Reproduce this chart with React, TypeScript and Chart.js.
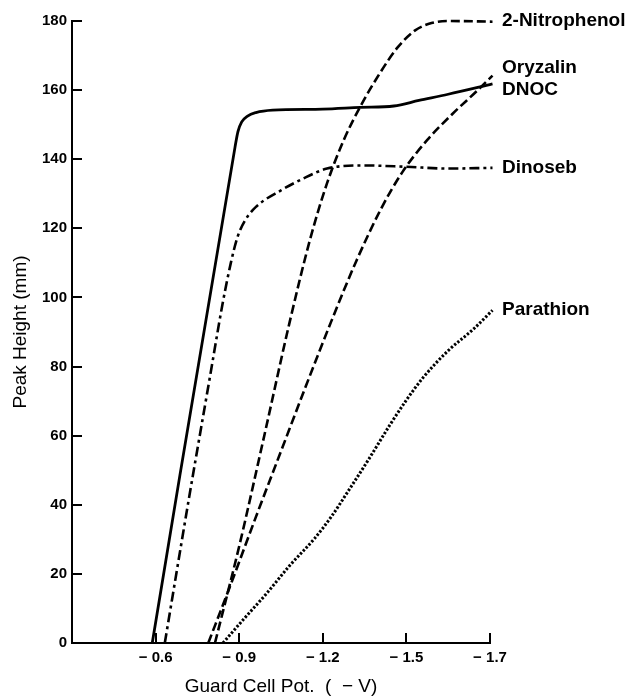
import React, { useEffect, useRef } from 'react';
import { Chart, registerables } from 'chart.js';

Chart.register(...registerables);

// x values are positions along the (equally spaced) tick axis: 1 = -0.6, 2 = -0.9, 3 = -1.2, 4 = -1.5, 5 = -1.7
const xTickLabels = ['\u2212 0.6', '\u2212 0.9', '\u2212 1.2', '\u2212 1.5', '\u2212 1.7'];
const xMin = 0;
const xMax = 5;
const yMin = 0;
const yMax = 180;
const yStep = 20;

const dnocX = [0.96, 1.95, 1.985, 2.03, 2.1, 2.2, 2.4, 3.0, 3.45, 3.85, 4.15, 4.5, 5.03];
const dnocY = [0, 143.5, 148.0, 150.8, 152.5, 153.5, 154.2, 154.5, 155.0, 155.4, 157.0, 158.8, 161.8];

const dinosebX = [1.11, 1.4, 1.65, 1.8, 1.9, 1.98, 2.07, 2.2, 2.5, 2.8, 3.05, 3.5, 4.0, 4.5, 5.03];
const dinosebY = [0, 42, 77, 98, 110, 117.5, 122.3, 126.2, 131.0, 134.8, 137.3, 138.2, 137.8, 137.3, 137.5];

const nitrophenolX = [1.71, 2.0, 2.3, 2.6, 2.85, 3.05, 3.25, 3.45, 3.68, 3.9, 4.1, 4.3, 4.5, 5.03];
const nitrophenolY = [0, 28, 60, 92.5, 117, 133, 145.5, 155.3, 164.8, 172.5, 177.2, 179.4, 180, 179.8];

const oryzalinX = [1.63, 1.9, 2.2, 2.5, 2.8, 3.1, 3.4, 3.7, 3.95, 4.25, 4.55, 4.85, 5.03];
const oryzalinY = [0, 17, 36.5, 55.5, 74.5, 93, 110.5, 125.8, 136.2, 145.6, 153.1, 159.9, 164.2];

const parathionX = [1.806, 2.05, 2.33, 2.6, 2.9, 3.1, 3.3, 3.55, 3.8, 4.0, 4.2, 4.5, 4.8, 5.03];
const parathionY = [0, 6.8, 14.4, 22.3, 30.2, 36.5, 43.8, 53.2, 63.0, 70.3, 76.8, 84.6, 90.8, 96.3];

const labelNames = ['2-Nitrophenol', 'Oryzalin', 'DNOC', 'Dinoseb', 'Parathion'];
const labelValues = [180, 166.4, 160.0, 137.4, 96.3];

const FONT = '"Liberation Sans", Arial, Helvetica, sans-serif';

function pts(xs: number[], ys: number[]) {
  return xs.map((x, i) => ({ x, y: ys[i] }));
}

const decor = {
  id: 'decor',
  afterDraw(chart: any) {
    const { ctx, chartArea } = chart;
    const x = chart.scales.x;
    const y = chart.scales.y;
    ctx.save();
    ctx.strokeStyle = '#000';
    ctx.lineWidth = 2;
    y.ticks.forEach((t: any) => {
      if (t.value === yMin) return;
      const py = Math.round(y.getPixelForValue(t.value));
      ctx.beginPath();
      ctx.moveTo(chartArea.left, py);
      ctx.lineTo(chartArea.left + 10, py);
      ctx.stroke();
    });
    x.ticks.forEach((t: any) => {
      if (t.value === xMin) return;
      const px = Math.round(x.getPixelForValue(t.value));
      ctx.beginPath();
      ctx.moveTo(px, chartArea.bottom);
      ctx.lineTo(px, chartArea.bottom - 10);
      ctx.stroke();
    });
    ctx.fillStyle = '#000';
    ctx.font = 'bold 19px ' + FONT;
    ctx.textBaseline = 'middle';
    ctx.textAlign = 'left';
    labelNames.forEach((n, i) => {
      ctx.fillText(n, x.getPixelForValue(xMax) + 12, y.getPixelForValue(labelValues[i]));
    });
    ctx.restore();
  },
};

export default function App() {
  const ref = useRef<HTMLCanvasElement | null>(null);
  useEffect(() => {
    if (!ref.current) return;
    Chart.defaults.font.family = FONT;
    Chart.defaults.color = '#000';
    const common = {
      borderColor: '#000',
      borderWidth: 2.6,
      pointRadius: 0,
      fill: false,
      cubicInterpolationMode: 'monotone' as const,
      clip: false as const,
      borderCapStyle: 'butt' as const,
    };
    const chart = new Chart(ref.current, {
      type: 'line',
      data: {
        datasets: [
          { ...common, label: 'DNOC', data: pts(dnocX, dnocY), borderWidth: 2.8 },
          { ...common, label: 'Dinoseb', data: pts(dinosebX, dinosebY), borderDash: [10, 4, 3, 4] },
          { ...common, label: '2-Nitrophenol', data: pts(nitrophenolX, nitrophenolY), borderDash: [9, 4] },
          { ...common, label: 'Oryzalin', data: pts(oryzalinX, oryzalinY), borderDash: [9, 4] },
          { ...common, label: 'Parathion', data: pts(parathionX, parathionY), borderDash: [2.4, 1.8], borderWidth: 3 },
        ],
      },
      options: {
        animation: false,
        responsive: false,
        devicePixelRatio: 1,
        layout: { padding: { left: 0, top: 21, right: 144, bottom: 0 } },
        plugins: { legend: { display: false }, tooltip: { enabled: false } },
        scales: {
          x: {
            type: 'linear',
            min: xMin,
            max: xMax,
            grid: { display: false, drawTicks: false },
            border: { display: true, color: '#000', width: 2 },
            ticks: {
              stepSize: 1,
              autoSkip: false,
              maxRotation: 0,
              padding: 6,
              color: '#000',
              font: { size: 15, weight: 'bold' },
              callback: (v: any) => {
                const i = Math.round(Number(v)) - 1;
                return i >= 0 ? xTickLabels[i] : '';
              },
            },
            title: {
              display: true,
              text: 'Guard Cell Pot.  (  \u2212 V)',
              color: '#000',
              font: { size: 19 },
              padding: { top: 0, bottom: 0 },
            },
            afterFit: (s: any) => {
              s.height = 55;
            },
          },
          y: {
            type: 'linear',
            min: yMin,
            max: yMax,
            grid: { display: false, drawTicks: false },
            border: { display: true, color: '#000', width: 2 },
            ticks: {
              stepSize: yStep,
              padding: 5,
              color: '#000',
              font: { size: 15, weight: 'bold' },
            },
            title: {
              display: true,
              text: 'Peak Height (mm)',
              color: '#000',
              font: { size: 19 },
              padding: { top: 9, bottom: 0 },
            },
            afterFit: (s: any) => {
              s.width = 72;
            },
          },
        },
      },
      plugins: [decor],
    });
    return () => chart.destroy();
  }, []);
  return (
    <div style={{ position: 'fixed', left: 0, top: 0, width: 634, height: 698, background: '#fff' }}>
      <canvas ref={ref} width={634} height={698} style={{ display: 'block' }} />
    </div>
  );
}
